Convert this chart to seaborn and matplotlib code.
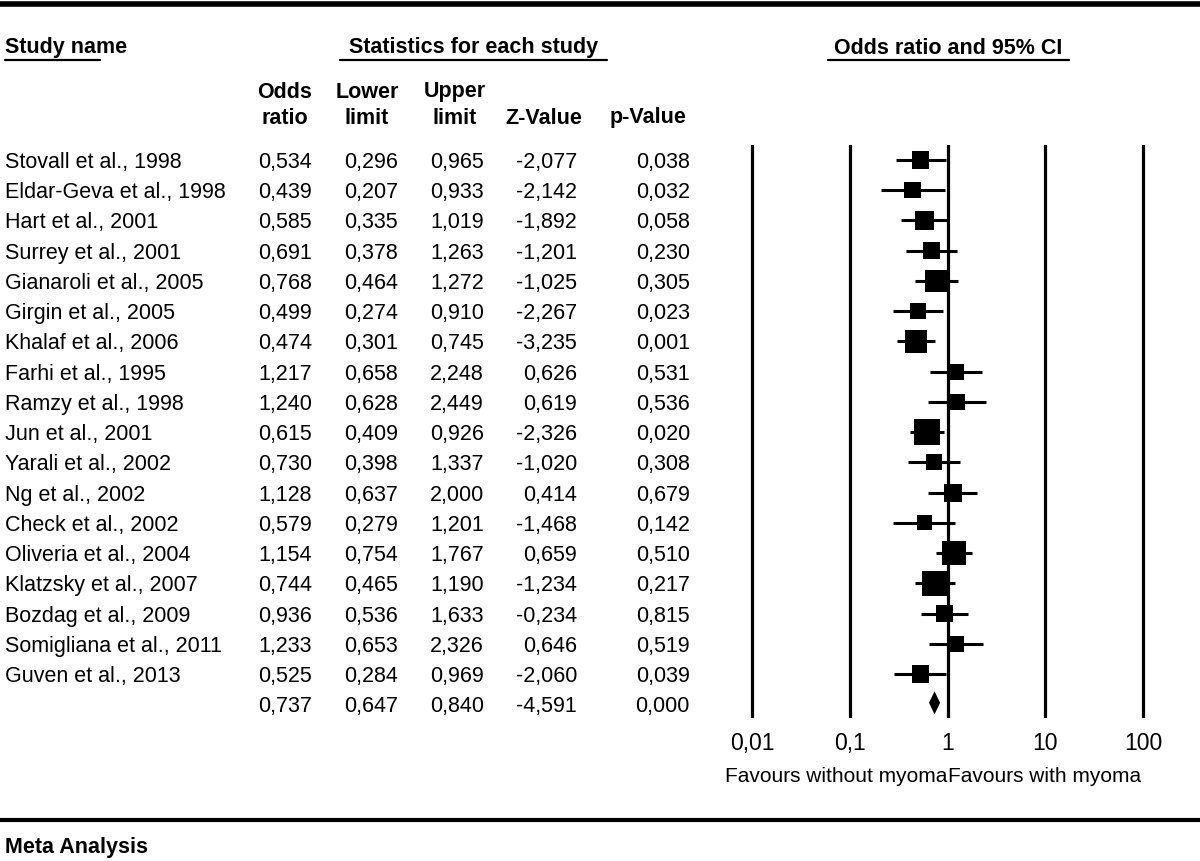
import numpy as np
import pandas as pd
import matplotlib
matplotlib.use("Agg")
import matplotlib.pyplot as plt
import seaborn as sns
from matplotlib.transforms import blended_transform_factory
from matplotlib.lines import Line2D
from matplotlib.ticker import NullLocator

# ---------------- data ----------------
studies = [
    "Stovall et al., 1998", "Eldar-Geva et al., 1998", "Hart et al., 2001",
    "Surrey et al., 2001", "Gianaroli et al., 2005", "Girgin et al., 2005",
    "Khalaf et al., 2006", "Farhi et al., 1995", "Ramzy et al., 1998",
    "Jun et al., 2001", "Yarali et al., 2002", "Ng et al., 2002",
    "Check et al., 2002", "Oliveria et al., 2004", "Klatzsky et al., 2007",
    "Bozdag et al., 2009", "Somigliana et al., 2011", "Guven et al., 2013",
]
odds_ratio = [0.534, 0.439, 0.585, 0.691, 0.768, 0.499, 0.474, 1.217, 1.240,
              0.615, 0.730, 1.128, 0.579, 1.154, 0.744, 0.936, 1.233, 0.525]
lower = [0.296, 0.207, 0.335, 0.378, 0.464, 0.274, 0.301, 0.658, 0.628,
         0.409, 0.398, 0.637, 0.279, 0.754, 0.465, 0.536, 0.653, 0.284]
upper = [0.965, 0.933, 1.019, 1.263, 1.272, 0.910, 0.745, 2.248, 2.449,
         0.926, 1.337, 2.000, 1.201, 1.767, 1.190, 1.633, 2.326, 0.969]
z_value = [-2.077, -2.142, -1.892, -1.201, -1.025, -2.267, -3.235, 0.626, 0.619,
           -2.326, -1.020, 0.414, -1.468, 0.659, -1.234, -0.234, 0.646, -2.060]
p_value = [0.038, 0.032, 0.058, 0.230, 0.305, 0.023, 0.001, 0.531, 0.536,
           0.020, 0.308, 0.679, 0.142, 0.510, 0.217, 0.815, 0.519, 0.039]
# relative weights (%), estimated from the square sizes
weight = [4.5, 4.0, 5.6, 4.5, 7.5, 4.0, 7.5, 4.0, 4.0,
          10.5, 4.0, 5.0, 3.5, 8.9, 9.7, 4.5, 4.0, 4.5]

summary_or = 0.737
summary_lower = 0.647
summary_upper = 0.840
summary_z = -4.591
summary_p = 0.000

tick_values = [0.01, 0.1, 1, 10, 100]
tick_labels = ["0,01", "0,1", "1", "10", "100"]


def fmt(v):
    return f"{v:.3f}".replace(".", ",")


# ---------------- style ----------------
sns.set_theme(style="white")
plt.rcParams["font.family"] = ["Liberation Sans", "DejaVu Sans"]

W, H = 1200, 861
fig = plt.figure(figsize=(W / 100, H / 100), dpi=100)
fig.patch.set_facecolor("white")


def fx(x):
    return x / W


def fy(y):
    return 1 - y / H


# forest plot axes
ax_left, ax_right, ax_top, ax_bot = 740, 1160, 145, 718
ax = fig.add_axes([fx(ax_left), fy(ax_bot), (ax_right - ax_left) / W, (ax_bot - ax_top) / H])
decade_px = 97.75
x0_px = 752  # pixel of 0.01
ax.set_xscale("log")
ax.set_xlim(10 ** (-2 - (x0_px - ax_left) / decade_px),
            10 ** (-2 + (ax_right - x0_px) / decade_px))
row_px0, row_step = 160, 30.24
ax.set_ylim((ax_bot - row_px0) / row_step, (ax_top - row_px0) / row_step)

df = pd.DataFrame({"study": studies, "or": odds_ratio, "lower": lower,
                   "upper": upper, "z": z_value, "p": p_value,
                   "weight": weight})
df["row"] = np.arange(len(df))
sum_row = len(df)

for v in tick_values:
    ax.axvline(v, color="black", lw=2.3, zorder=1)

ax.hlines(df["row"], df["lower"], df["upper"], color="black", lw=2.2, zorder=2)
sns.scatterplot(data=df, x="or", y="row", marker="s", s=df["weight"] * 34,
                color="black", edgecolor="black", linewidth=0, ax=ax,
                legend=False, zorder=3)
ax.fill([summary_lower, summary_or, summary_upper, summary_or],
        [sum_row - 0.05, sum_row - 0.43, sum_row - 0.05, sum_row + 0.33],
        color="black", zorder=3, lw=0)

ax.set_xticks(tick_values, tick_labels)
ax.xaxis.set_minor_locator(NullLocator())
ax.tick_params(axis="x", length=0, pad=10, labelsize=16.5, labelcolor="black")
ax.set_yticks([])
ax.set_xlabel("")
ax.set_ylabel("")
for s in ax.spines.values():
    s.set_visible(False)
ax.set_facecolor("none")

# favours labels
tf = blended_transform_factory(ax.transData, fig.transFigure)
ax.text(1, fy(776), "Favours without myoma", transform=tf, ha="right",
        va="center", fontsize=15, color="black")
ax.text(1, fy(776), "Favours with myoma", transform=tf, ha="left",
        va="center", fontsize=15, color="black")

# table text
tt = blended_transform_factory(fig.transFigure, ax.transData)
fs = 15.5
col_right = [312, 398, 484, 577, 690]
for _, r in df.iterrows():
    fig.text(fx(5), r["row"], r["study"], transform=tt, ha="left",
             va="center_baseline", fontsize=fs, color="black")
    for xr, val in zip(col_right, [r["or"], r["lower"], r["upper"], r["z"], r["p"]]):
        fig.text(fx(xr), r["row"], fmt(val), transform=tt, ha="right",
                 va="center_baseline", fontsize=fs, color="black")
for xr, val in zip(col_right, [summary_or, summary_lower, summary_upper, summary_z, summary_p]):
    fig.text(fx(xr), sum_row, fmt(val), transform=tt, ha="right",
             va="center_baseline", fontsize=fs, color="black")

# headers
hfs = 15.5
fig.text(fx(5), fy(48), "Study name", ha="left", va="center", fontsize=hfs,
         fontweight="bold", color="black")
fig.text(fx(474), fy(48), "Statistics for each study", ha="center", va="center",
         fontsize=hfs, fontweight="bold", color="black")
fig.text(fx(948), fy(48), "Odds ratio and 95% CI", ha="center", va="center",
         fontsize=hfs, fontweight="bold", color="black")
for x1, x2 in [(5, 100), (340, 607), (828, 1069)]:
    fig.add_artist(Line2D([fx(x1), fx(x2)], [fy(60), fy(60)], color="black", lw=1.6))

col_center = [285, 367, 455, 544, 648]
line1 = ["Odds", "Lower", "Upper", "", ""]
line2 = ["ratio", "limit", "limit", "Z-Value", "p-Value"]
for xc, a, b in zip(col_center, line1, line2):
    if a:
        fig.text(fx(xc), fy(92), a, ha="center", va="center", fontsize=hfs,
                 fontweight="bold", color="black")
    fig.text(fx(xc), fy(118), b, ha="center", va="center", fontsize=hfs,
             fontweight="bold", color="black")

# rules
fig.add_artist(Line2D([0, 1], [fy(4), fy(4)], color="black", lw=4))
fig.add_artist(Line2D([0, 1], [fy(820), fy(820)], color="black", lw=3))
fig.text(fx(5), fy(848), "Meta Analysis", ha="left", va="center", fontsize=hfs,
         fontweight="bold", color="black")

fig.savefig("out.png", dpi=100, facecolor="white")
